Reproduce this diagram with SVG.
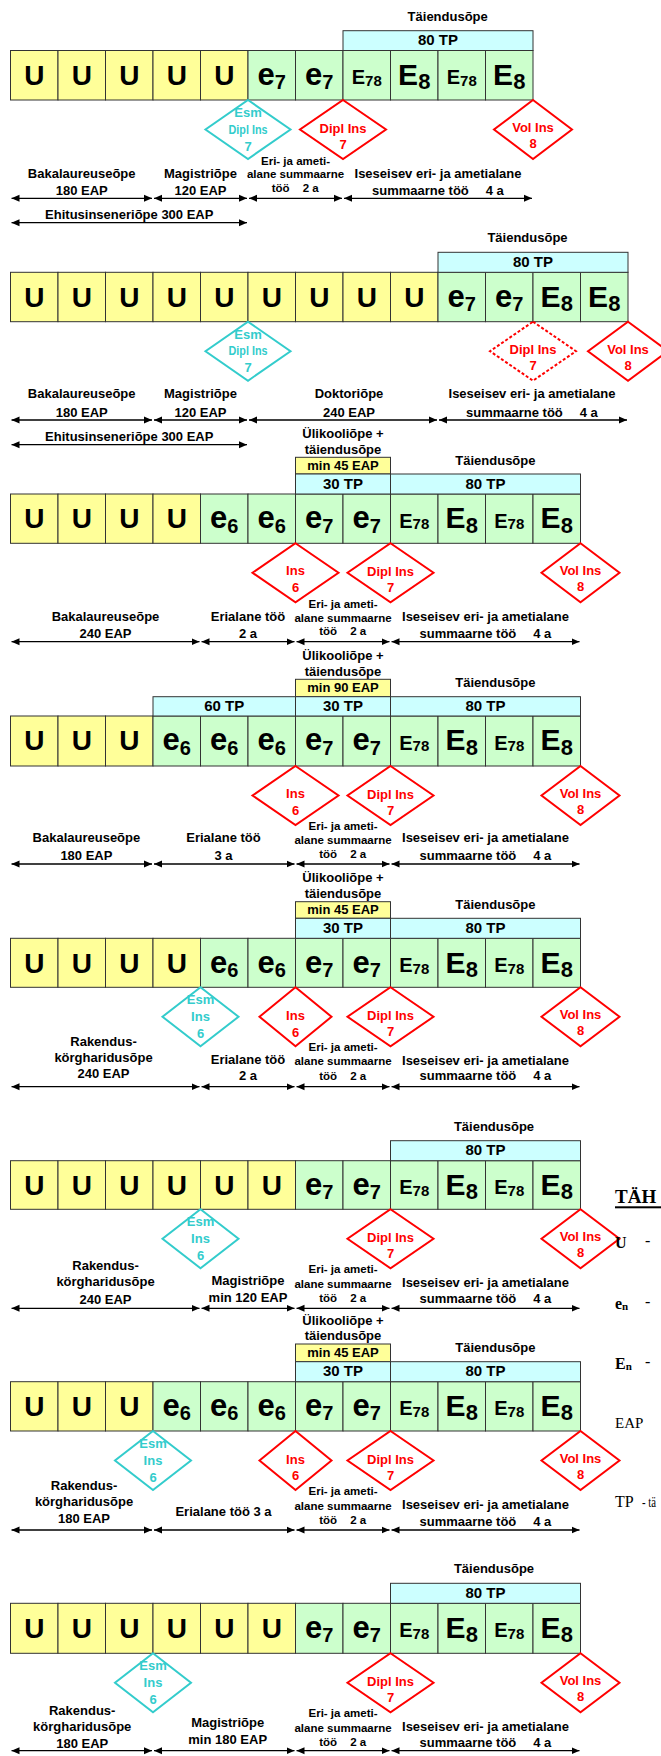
<svg xmlns="http://www.w3.org/2000/svg" width="661" height="1756" viewBox="0 0 661 1756">
<style>
text{font-family:"Liberation Sans",Arial,Helvetica,sans-serif;font-weight:bold;fill:#000}
.U{font-size:28px;text-anchor:middle}
.e{font-size:31px;text-anchor:middle}
.E{font-size:30px;text-anchor:middle}
.E7{font-size:20px;text-anchor:middle}
.s1{font-size:20px}.s2{font-size:22px}.s3{font-size:15px}
.lb{font-size:13px;text-anchor:middle}
.ls{font-size:13px}
.sm{font-size:11.5px;text-anchor:middle}
.ss{font-size:11.5px}
.tp{font-size:15px;text-anchor:middle}
.tr{font-size:13px;text-anchor:middle;fill:#f00}
.tc{font-size:13px;text-anchor:middle;fill:#33cccc}
.u{fill:#ffff99;stroke:#333;stroke-width:1}
.g{fill:#ccffcc;stroke:#333;stroke-width:1}
.c{fill:#ccffff;stroke:#333;stroke-width:1}
.dr{fill:#fff;stroke:#f00;stroke-width:2}
.dd{fill:#fff;stroke:#f00;stroke-width:2;stroke-dasharray:3 2}
.dc{fill:#fff;stroke:#33cccc;stroke-width:2}
.ar{stroke:#000;stroke-width:1.3;fill:none;marker-start:url(#ah);marker-end:url(#ah)}
text.lg{font-family:"Liberation Serif","Times New Roman",serif}
text.nw{font-weight:normal}
</style>
<defs>
<marker id="ah" viewBox="0 0 8 8" refX="8" refY="4" markerWidth="8" markerHeight="8" markerUnits="userSpaceOnUse" orient="auto-start-reverse"><path d="M0,0.5 L8,4 L0,7.5 z" fill="#000"/></marker>
</defs>
<rect width="661" height="1756" fill="#fff"/>

<!-- ROW 1 -->
<g id="row1" transform="translate(0,50.5)">
<g id="r1c0"><rect class="u" x="10.5" width="47.5" height="49.5"/><text class="U" x="34.25" y="34.3">U</text></g>
<g id="r1c1"><rect class="u" x="58" width="47.5" height="49.5"/><text class="U" x="81.75" y="34.3">U</text></g>
<g id="r1c2"><rect class="u" x="105.5" width="47.5" height="49.5"/><text class="U" x="129.25" y="34.3">U</text></g>
<g id="r1c3"><rect class="u" x="153" width="47.5" height="49.5"/><text class="U" x="176.75" y="34.3">U</text></g>
<g id="r1c4"><rect class="u" x="200.5" width="47.5" height="49.5"/><text class="U" x="224.25" y="34.3">U</text></g>
<g id="r1c5"><rect class="g" x="248" width="47.5" height="49.5"/><text class="e" x="271.75" y="34.3">e<tspan class="s1" dy="4.3">7</tspan></text></g>
<g id="r1c6"><rect class="g" x="295.5" width="47.5" height="49.5"/><text class="e" x="319.25" y="34.3">e<tspan class="s1" dy="4.3">7</tspan></text></g>
<g id="r1c7"><rect class="g" x="343" width="47.5" height="49.5"/><text class="E7" x="366.75" y="33.6">E<tspan class="s3" dy="1.7">78</tspan></text></g>
<g id="r1c8"><rect class="g" x="390.5" width="47.5" height="49.5"/><text class="E" x="414.25" y="34.3">E<tspan class="s2" dy="4.3">8</tspan></text></g>
<g id="r1c9"><rect class="g" x="438" width="47.5" height="49.5"/><text class="E7" x="461.75" y="33.6">E<tspan class="s3" dy="1.7">78</tspan></text></g>
<g id="r1c10"><rect class="g" x="485.5" width="47.5" height="49.5"/><text class="E" x="509.25" y="34.3">E<tspan class="s2" dy="4.3">8</tspan></text></g>
</g>
<g id="r1tp"><rect class="c" x="343" y="30.7" width="190" height="19.8"/><text class="tp" x="438" y="45.3">80 TP</text></g>
<text class="lb" x="447.7" y="20.7">Täiendusõpe</text>
<g id="r1d1" transform="translate(248,100)"><polygon class="dc" points="0,0 42.5,29.5 0,59 -42.5,29.5"/><text class="tc" y="17">Esm</text><text class="tc" y="33.5" textLength="39" lengthAdjust="spacingAndGlyphs">Dipl Ins</text><text class="tc" y="50.5">7</text></g>
<g id="r1d2" transform="translate(343,100)"><polygon class="dr" points="0,0 43,29.5 0,59 -43,29.5"/><text class="tr" y="32.5">Dipl Ins</text><text class="tr" y="48.5">7</text></g>
<g id="r1d3" transform="translate(533,100)"><polygon class="dr" points="0,0 39,29.5 0,59 -39,29.5"/><text class="tr" y="32">Vol Ins</text><text class="tr" y="48">8</text></g>
<g id="r1lab">
<text class="lb" x="81.7" y="177.5">Bakalaureuseõpe</text><text class="lb" x="81.7" y="195">180 EAP</text>
<text class="lb" x="200.5" y="177.5">Magistriõpe</text><text class="lb" x="200.5" y="195">120 EAP</text>
<text class="sm" x="295.5" y="164.5">Eri- ja ameti-</text><text class="sm" x="295.5" y="178">alane summaarne</text><text class="ss" x="271.7" y="191.7">töö</text><text class="ss" x="302.7" y="191.7">2 a</text>
<text class="lb" x="438" y="177.5">Iseseisev eri- ja ametialane</text><text class="ls" x="372" y="195">summaarne töö</text><text class="ls" x="485.7" y="195">4 a</text>
<text class="lb" x="129.25" y="218.5">Ehitusinseneriõpe 300 EAP</text>
</g>

<!-- ROW 2 -->
<g id="row2" transform="translate(0,272.3)">
<g id="r2c0"><rect class="u" x="10.5" width="47.5" height="49.4"/><text class="U" x="34.25" y="34.3">U</text></g>
<g id="r2c1"><rect class="u" x="58" width="47.5" height="49.4"/><text class="U" x="81.75" y="34.3">U</text></g>
<g id="r2c2"><rect class="u" x="105.5" width="47.5" height="49.4"/><text class="U" x="129.25" y="34.3">U</text></g>
<g id="r2c3"><rect class="u" x="153" width="47.5" height="49.4"/><text class="U" x="176.75" y="34.3">U</text></g>
<g id="r2c4"><rect class="u" x="200.5" width="47.5" height="49.4"/><text class="U" x="224.25" y="34.3">U</text></g>
<g id="r2c5"><rect class="u" x="248" width="47.5" height="49.4"/><text class="U" x="271.75" y="34.3">U</text></g>
<g id="r2c6"><rect class="u" x="295.5" width="47.5" height="49.4"/><text class="U" x="319.25" y="34.3">U</text></g>
<g id="r2c7"><rect class="u" x="343" width="47.5" height="49.4"/><text class="U" x="366.75" y="34.3">U</text></g>
<g id="r2c8"><rect class="u" x="390.5" width="47.5" height="49.4"/><text class="U" x="414.25" y="34.3">U</text></g>
<g id="r2c9"><rect class="g" x="438" width="47.5" height="49.4"/><text class="e" x="461.75" y="34.3">e<tspan class="s1" dy="4.3">7</tspan></text></g>
<g id="r2c10"><rect class="g" x="485.5" width="47.5" height="49.4"/><text class="e" x="509.25" y="34.3">e<tspan class="s1" dy="4.3">7</tspan></text></g>
<g id="r2c11"><rect class="g" x="533" width="47.5" height="49.4"/><text class="E" x="556.75" y="34.3">E<tspan class="s2" dy="4.3">8</tspan></text></g>
<g id="r2c12"><rect class="g" x="580.5" width="47.5" height="49.4"/><text class="E" x="604.25" y="34.3">E<tspan class="s2" dy="4.3">8</tspan></text></g>
</g>
<g id="r2tp"><rect class="c" x="438" y="252.3" width="190" height="20"/><text class="tp" x="533" y="266.8">80 TP</text></g>
<text class="lb" x="527.5" y="242.3">Täiendusõpe</text>
<g id="r2d1" transform="translate(248,321.7)"><polygon class="dc" points="0,0 42.5,29.5 0,59 -42.5,29.5"/><text class="tc" y="17">Esm</text><text class="tc" y="33.5" textLength="39" lengthAdjust="spacingAndGlyphs">Dipl Ins</text><text class="tc" y="50.5">7</text></g>
<g id="r2d2" transform="translate(533,321.7)"><polygon class="dd" points="0,0 43,29.5 0,59 -43,29.5"/><text class="tr" y="32.5">Dipl Ins</text><text class="tr" y="48.5">7</text></g>
<g id="r2d3" transform="translate(628,321.7)"><polygon class="dr" points="0,0 40,29.5 0,59 -40,29.5"/><text class="tr" y="32">Vol Ins</text><text class="tr" y="48">8</text></g>
<g id="r2lab">
<text class="lb" x="81.7" y="398.3">Bakalaureuseõpe</text><text class="lb" x="81.7" y="416.5">180 EAP</text>
<text class="lb" x="200.5" y="398.3">Magistriõpe</text><text class="lb" x="200.5" y="416.5">120 EAP</text>
<text class="lb" x="349" y="398.3">Doktoriõpe</text><text class="lb" x="349" y="416.5">240 EAP</text>
<text class="lb" x="532" y="398.3">Iseseisev eri- ja ametialane</text><text class="ls" x="466" y="416.5">summaarne töö</text><text class="ls" x="579.7" y="416.5">4 a</text>
<text class="lb" x="129.25" y="440.5">Ehitusinseneriõpe 300 EAP</text>
</g>

<!-- ROW 3 -->
<g id="row3" transform="translate(0,494)">
<g id="r3c0"><rect class="u" x="10.5" width="47.5" height="49.3"/><text class="U" x="34.25" y="34.3">U</text></g>
<g id="r3c1"><rect class="u" x="58" width="47.5" height="49.3"/><text class="U" x="81.75" y="34.3">U</text></g>
<g id="r3c2"><rect class="u" x="105.5" width="47.5" height="49.3"/><text class="U" x="129.25" y="34.3">U</text></g>
<g id="r3c3"><rect class="u" x="153" width="47.5" height="49.3"/><text class="U" x="176.75" y="34.3">U</text></g>
<g id="r3c4"><rect class="g" x="200.5" width="47.5" height="49.3"/><text class="e" x="224.25" y="34.3">e<tspan class="s1" dy="4.3">6</tspan></text></g>
<g id="r3c5"><rect class="g" x="248" width="47.5" height="49.3"/><text class="e" x="271.75" y="34.3">e<tspan class="s1" dy="4.3">6</tspan></text></g>
<g id="r3c6"><rect class="g" x="295.5" width="47.5" height="49.3"/><text class="e" x="319.25" y="34.3">e<tspan class="s1" dy="4.3">7</tspan></text></g>
<g id="r3c7"><rect class="g" x="343" width="47.5" height="49.3"/><text class="e" x="366.75" y="34.3">e<tspan class="s1" dy="4.3">7</tspan></text></g>
<g id="r3c8"><rect class="g" x="390.5" width="47.5" height="49.3"/><text class="E7" x="414.25" y="33.6">E<tspan class="s3" dy="1.7">78</tspan></text></g>
<g id="r3c9"><rect class="g" x="438" width="47.5" height="49.3"/><text class="E" x="461.75" y="34.3">E<tspan class="s2" dy="4.3">8</tspan></text></g>
<g id="r3c10"><rect class="g" x="485.5" width="47.5" height="49.3"/><text class="E7" x="509.25" y="33.6">E<tspan class="s3" dy="1.7">78</tspan></text></g>
<g id="r3c11"><rect class="g" x="533" width="47.5" height="49.3"/><text class="E" x="556.75" y="34.3">E<tspan class="s2" dy="4.3">8</tspan></text></g>
</g>
<text class="lb" x="343" y="438">Ülikooliõpe +</text><text class="lb" x="343" y="453.5">täiendusõpe</text>
<g id="r3min"><rect class="u" x="295.5" y="457.3" width="95" height="16.7"/><text class="lb" x="343" y="470.3">min 45 EAP</text></g>
<g id="r3tp30"><rect class="c" x="295.5" y="474" width="95" height="20"/><text class="tp" x="343" y="488.5">30 TP</text></g>
<g id="r3tp80"><rect class="c" x="390.5" y="474" width="190" height="20"/><text class="tp" x="485.5" y="488.5">80 TP</text></g>
<text class="lb" x="495.4" y="464.5">Täiendusõpe</text>
<g id="r3d1" transform="translate(295.5,543.3)"><polygon class="dr" points="0,0 43,29.5 0,59 -43,29.5"/><text class="tr" y="32">Ins</text><text class="tr" y="48.5">6</text></g>
<g id="r3d2" transform="translate(390.5,543.3)"><polygon class="dr" points="0,0 43,29.5 0,59 -43,29.5"/><text class="tr" y="32.5">Dipl Ins</text><text class="tr" y="48.5">7</text></g>
<g id="r3d3" transform="translate(580.5,543.3)"><polygon class="dr" points="0,0 39,29.5 0,59 -39,29.5"/><text class="tr" y="32">Vol Ins</text><text class="tr" y="48">8</text></g>
<g id="r3lab">
<text class="lb" x="105.5" y="620.5">Bakalaureuseõpe</text><text class="lb" x="105.5" y="638">240 EAP</text>
<text class="lb" x="248" y="620.5">Erialane töö</text><text class="lb" x="248" y="638">2 a</text>
<text class="sm" x="343" y="607.8">Eri- ja ameti-</text><text class="sm" x="343" y="621.5">alane summaarne</text><text class="ss" x="319.2" y="635.3">töö</text><text class="ss" x="350.2" y="635.3">2 a</text>
<text class="lb" x="485.5" y="620.5">Iseseisev eri- ja ametialane</text><text class="ls" x="419.5" y="638">summaarne töö</text><text class="ls" x="533.2" y="638">4 a</text>
</g>

<!-- ROW 4 -->
<g id="row4" transform="translate(0,716)">
<g id="r4c0"><rect class="u" x="10.5" width="47.5" height="50"/><text class="U" x="34.25" y="34.3">U</text></g>
<g id="r4c1"><rect class="u" x="58" width="47.5" height="50"/><text class="U" x="81.75" y="34.3">U</text></g>
<g id="r4c2"><rect class="u" x="105.5" width="47.5" height="50"/><text class="U" x="129.25" y="34.3">U</text></g>
<g id="r4c3"><rect class="g" x="153" width="47.5" height="50"/><text class="e" x="176.75" y="34.3">e<tspan class="s1" dy="4.3">6</tspan></text></g>
<g id="r4c4"><rect class="g" x="200.5" width="47.5" height="50"/><text class="e" x="224.25" y="34.3">e<tspan class="s1" dy="4.3">6</tspan></text></g>
<g id="r4c5"><rect class="g" x="248" width="47.5" height="50"/><text class="e" x="271.75" y="34.3">e<tspan class="s1" dy="4.3">6</tspan></text></g>
<g id="r4c6"><rect class="g" x="295.5" width="47.5" height="50"/><text class="e" x="319.25" y="34.3">e<tspan class="s1" dy="4.3">7</tspan></text></g>
<g id="r4c7"><rect class="g" x="343" width="47.5" height="50"/><text class="e" x="366.75" y="34.3">e<tspan class="s1" dy="4.3">7</tspan></text></g>
<g id="r4c8"><rect class="g" x="390.5" width="47.5" height="50"/><text class="E7" x="414.25" y="33.6">E<tspan class="s3" dy="1.7">78</tspan></text></g>
<g id="r4c9"><rect class="g" x="438" width="47.5" height="50"/><text class="E" x="461.75" y="34.3">E<tspan class="s2" dy="4.3">8</tspan></text></g>
<g id="r4c10"><rect class="g" x="485.5" width="47.5" height="50"/><text class="E7" x="509.25" y="33.6">E<tspan class="s3" dy="1.7">78</tspan></text></g>
<g id="r4c11"><rect class="g" x="533" width="47.5" height="50"/><text class="E" x="556.75" y="34.3">E<tspan class="s2" dy="4.3">8</tspan></text></g>
</g>
<text class="lb" x="343" y="660">Ülikooliõpe +</text><text class="lb" x="343" y="675.5">täiendusõpe</text>
<g id="r4min"><rect class="u" x="295.5" y="679.3" width="95" height="17.4"/><text class="lb" x="343" y="692">min 90 EAP</text></g>
<g id="r4tp60"><rect class="c" x="153" y="696.7" width="142.5" height="19.3"/><text class="tp" x="224.25" y="711">60 TP</text></g>
<g id="r4tp30"><rect class="c" x="295.5" y="696.7" width="95" height="19.3"/><text class="tp" x="343" y="711">30 TP</text></g>
<g id="r4tp80"><rect class="c" x="390.5" y="696.7" width="190" height="19.3"/><text class="tp" x="485.5" y="711">80 TP</text></g>
<text class="lb" x="495.4" y="686.7">Täiendusõpe</text>
<g id="r4d1" transform="translate(295.5,766)"><polygon class="dr" points="0,0 43,29.5 0,59 -43,29.5"/><text class="tr" y="32">Ins</text><text class="tr" y="48.5">6</text></g>
<g id="r4d2" transform="translate(390.5,766)"><polygon class="dr" points="0,0 43,29.5 0,59 -43,29.5"/><text class="tr" y="32.5">Dipl Ins</text><text class="tr" y="48.5">7</text></g>
<g id="r4d3" transform="translate(580.5,766)"><polygon class="dr" points="0,0 39,29.5 0,59 -39,29.5"/><text class="tr" y="32">Vol Ins</text><text class="tr" y="48">8</text></g>
<g id="r4lab">
<text class="lb" x="86.4" y="842">Bakalaureuseõpe</text><text class="lb" x="86.4" y="860">180 EAP</text>
<text class="lb" x="223.5" y="842">Erialane töö</text><text class="lb" x="223.5" y="860">3 a</text>
<text class="sm" x="343" y="830">Eri- ja ameti-</text><text class="sm" x="343" y="844">alane summaarne</text><text class="ss" x="319.2" y="857.7">töö</text><text class="ss" x="350.2" y="857.7">2 a</text>
<text class="lb" x="485.5" y="842">Iseseisev eri- ja ametialane</text><text class="ls" x="419.5" y="860">summaarne töö</text><text class="ls" x="533.2" y="860">4 a</text>
</g>

<!-- ROW 5 -->
<g id="row5" transform="translate(0,938.3)">
<g id="r5c0"><rect class="u" x="10.5" width="47.5" height="49"/><text class="U" x="34.25" y="34.3">U</text></g>
<g id="r5c1"><rect class="u" x="58" width="47.5" height="49"/><text class="U" x="81.75" y="34.3">U</text></g>
<g id="r5c2"><rect class="u" x="105.5" width="47.5" height="49"/><text class="U" x="129.25" y="34.3">U</text></g>
<g id="r5c3"><rect class="u" x="153" width="47.5" height="49"/><text class="U" x="176.75" y="34.3">U</text></g>
<g id="r5c4"><rect class="g" x="200.5" width="47.5" height="49"/><text class="e" x="224.25" y="34.3">e<tspan class="s1" dy="4.3">6</tspan></text></g>
<g id="r5c5"><rect class="g" x="248" width="47.5" height="49"/><text class="e" x="271.75" y="34.3">e<tspan class="s1" dy="4.3">6</tspan></text></g>
<g id="r5c6"><rect class="g" x="295.5" width="47.5" height="49"/><text class="e" x="319.25" y="34.3">e<tspan class="s1" dy="4.3">7</tspan></text></g>
<g id="r5c7"><rect class="g" x="343" width="47.5" height="49"/><text class="e" x="366.75" y="34.3">e<tspan class="s1" dy="4.3">7</tspan></text></g>
<g id="r5c8"><rect class="g" x="390.5" width="47.5" height="49"/><text class="E7" x="414.25" y="33.6">E<tspan class="s3" dy="1.7">78</tspan></text></g>
<g id="r5c9"><rect class="g" x="438" width="47.5" height="49"/><text class="E" x="461.75" y="34.3">E<tspan class="s2" dy="4.3">8</tspan></text></g>
<g id="r5c10"><rect class="g" x="485.5" width="47.5" height="49"/><text class="E7" x="509.25" y="33.6">E<tspan class="s3" dy="1.7">78</tspan></text></g>
<g id="r5c11"><rect class="g" x="533" width="47.5" height="49"/><text class="E" x="556.75" y="34.3">E<tspan class="s2" dy="4.3">8</tspan></text></g>
</g>
<text class="lb" x="343" y="882">Ülikooliõpe +</text><text class="lb" x="343" y="898">täiendusõpe</text>
<g id="r5min"><rect class="u" x="295.5" y="901.7" width="95" height="16.6"/><text class="lb" x="343" y="914.2">min 45 EAP</text></g>
<g id="r5tp30"><rect class="c" x="295.5" y="918.3" width="95" height="20"/><text class="tp" x="343" y="932.8">30 TP</text></g>
<g id="r5tp80"><rect class="c" x="390.5" y="918.3" width="190" height="20"/><text class="tp" x="485.5" y="932.8">80 TP</text></g>
<text class="lb" x="495.4" y="908.5">Täiendusõpe</text>
<g id="r5d0" transform="translate(200.5,987.3)"><polygon class="dc" points="0,0 38,29.5 0,59 -38,29.5"/><text class="tc" y="17">Esm</text><text class="tc" y="34">Ins</text><text class="tc" y="50.7">6</text></g>
<g id="r5d1" transform="translate(295.5,987.3)"><polygon class="dr" points="0,0 36,29.5 0,59 -36,29.5"/><text class="tr" y="32.7">Ins</text><text class="tr" y="49.3">6</text></g>
<g id="r5d2" transform="translate(390.5,987.3)"><polygon class="dr" points="0,0 43,29.5 0,59 -43,29.5"/><text class="tr" y="32.5">Dipl Ins</text><text class="tr" y="48.5">7</text></g>
<g id="r5d3" transform="translate(580.5,987.3)"><polygon class="dr" points="0,0 39,29.5 0,59 -39,29.5"/><text class="tr" y="32">Vol Ins</text><text class="tr" y="48">8</text></g>
<g id="r5lab">
<text class="lb" x="103.5" y="1046">Rakendus-</text><text class="lb" x="103.5" y="1061.5">körgharidusõpe</text><text class="lb" x="103.5" y="1078.3">240 EAP</text>
<text class="lb" x="248" y="1063.5">Erialane töö</text><text class="lb" x="248" y="1080">2 a</text>
<text class="sm" x="343" y="1050.5">Eri- ja ameti-</text><text class="sm" x="343" y="1064.5">alane summaarne</text><text class="ss" x="319.2" y="1079.5">töö</text><text class="ss" x="350.2" y="1079.5">2 a</text>
<text class="lb" x="485.5" y="1064.5">Iseseisev eri- ja ametialane</text><text class="ls" x="419.5" y="1080">summaarne töö</text><text class="ls" x="533.2" y="1080">4 a</text>
</g>

<!-- ROW 6 -->
<g id="row6" transform="translate(0,1160.7)">
<g id="r6c0"><rect class="u" x="10.5" width="47.5" height="48.6"/><text class="U" x="34.25" y="34.3">U</text></g>
<g id="r6c1"><rect class="u" x="58" width="47.5" height="48.6"/><text class="U" x="81.75" y="34.3">U</text></g>
<g id="r6c2"><rect class="u" x="105.5" width="47.5" height="48.6"/><text class="U" x="129.25" y="34.3">U</text></g>
<g id="r6c3"><rect class="u" x="153" width="47.5" height="48.6"/><text class="U" x="176.75" y="34.3">U</text></g>
<g id="r6c4"><rect class="u" x="200.5" width="47.5" height="48.6"/><text class="U" x="224.25" y="34.3">U</text></g>
<g id="r6c5"><rect class="u" x="248" width="47.5" height="48.6"/><text class="U" x="271.75" y="34.3">U</text></g>
<g id="r6c6"><rect class="g" x="295.5" width="47.5" height="48.6"/><text class="e" x="319.25" y="34.3">e<tspan class="s1" dy="4.3">7</tspan></text></g>
<g id="r6c7"><rect class="g" x="343" width="47.5" height="48.6"/><text class="e" x="366.75" y="34.3">e<tspan class="s1" dy="4.3">7</tspan></text></g>
<g id="r6c8"><rect class="g" x="390.5" width="47.5" height="48.6"/><text class="E7" x="414.25" y="33.6">E<tspan class="s3" dy="1.7">78</tspan></text></g>
<g id="r6c9"><rect class="g" x="438" width="47.5" height="48.6"/><text class="E" x="461.75" y="34.3">E<tspan class="s2" dy="4.3">8</tspan></text></g>
<g id="r6c10"><rect class="g" x="485.5" width="47.5" height="48.6"/><text class="E7" x="509.25" y="33.6">E<tspan class="s3" dy="1.7">78</tspan></text></g>
<g id="r6c11"><rect class="g" x="533" width="47.5" height="48.6"/><text class="E" x="556.75" y="34.3">E<tspan class="s2" dy="4.3">8</tspan></text></g>
</g>
<g id="r6tp80"><rect class="c" x="390.5" y="1140.7" width="190" height="20"/><text class="tp" x="485.5" y="1155.2">80 TP</text></g>
<text class="lb" x="494" y="1130.5">Täiendusõpe</text>
<g id="r6d0" transform="translate(200.5,1209.3)"><polygon class="dc" points="0,0 38,29.5 0,59 -38,29.5"/><text class="tc" y="17">Esm</text><text class="tc" y="34">Ins</text><text class="tc" y="50.7">6</text></g>
<g id="r6d2" transform="translate(390.5,1209.3)"><polygon class="dr" points="0,0 43,29.5 0,59 -43,29.5"/><text class="tr" y="32.5">Dipl Ins</text><text class="tr" y="48.5">7</text></g>
<g id="r6d3" transform="translate(580.5,1209.3)"><polygon class="dr" points="0,0 39,29.5 0,59 -39,29.5"/><text class="tr" y="32">Vol Ins</text><text class="tr" y="48">8</text></g>
<g id="r6lab">
<text class="lb" x="105.5" y="1270">Rakendus-</text><text class="lb" x="105.5" y="1286">körgharidusõpe</text><text class="lb" x="105.5" y="1303.5">240 EAP</text>
<text class="lb" x="248" y="1285">Magistriõpe</text><text class="lb" x="248" y="1301.5">min 120 EAP</text>
<text class="sm" x="343" y="1273">Eri- ja ameti-</text><text class="sm" x="343" y="1287.5">alane summaarne</text><text class="ss" x="319.2" y="1301.5">töö</text><text class="ss" x="350.2" y="1301.5">2 a</text>
<text class="lb" x="485.5" y="1287">Iseseisev eri- ja ametialane</text><text class="ls" x="419.5" y="1303">summaarne töö</text><text class="ls" x="533.2" y="1303">4 a</text>
</g>

<!-- ROW 7 -->
<g id="row7" transform="translate(0,1381.7)">
<g id="r7c0"><rect class="u" x="10.5" width="47.5" height="49.3"/><text class="U" x="34.25" y="34.3">U</text></g>
<g id="r7c1"><rect class="u" x="58" width="47.5" height="49.3"/><text class="U" x="81.75" y="34.3">U</text></g>
<g id="r7c2"><rect class="u" x="105.5" width="47.5" height="49.3"/><text class="U" x="129.25" y="34.3">U</text></g>
<g id="r7c3"><rect class="g" x="153" width="47.5" height="49.3"/><text class="e" x="176.75" y="34.3">e<tspan class="s1" dy="4.3">6</tspan></text></g>
<g id="r7c4"><rect class="g" x="200.5" width="47.5" height="49.3"/><text class="e" x="224.25" y="34.3">e<tspan class="s1" dy="4.3">6</tspan></text></g>
<g id="r7c5"><rect class="g" x="248" width="47.5" height="49.3"/><text class="e" x="271.75" y="34.3">e<tspan class="s1" dy="4.3">6</tspan></text></g>
<g id="r7c6"><rect class="g" x="295.5" width="47.5" height="49.3"/><text class="e" x="319.25" y="34.3">e<tspan class="s1" dy="4.3">7</tspan></text></g>
<g id="r7c7"><rect class="g" x="343" width="47.5" height="49.3"/><text class="e" x="366.75" y="34.3">e<tspan class="s1" dy="4.3">7</tspan></text></g>
<g id="r7c8"><rect class="g" x="390.5" width="47.5" height="49.3"/><text class="E7" x="414.25" y="33.6">E<tspan class="s3" dy="1.7">78</tspan></text></g>
<g id="r7c9"><rect class="g" x="438" width="47.5" height="49.3"/><text class="E" x="461.75" y="34.3">E<tspan class="s2" dy="4.3">8</tspan></text></g>
<g id="r7c10"><rect class="g" x="485.5" width="47.5" height="49.3"/><text class="E7" x="509.25" y="33.6">E<tspan class="s3" dy="1.7">78</tspan></text></g>
<g id="r7c11"><rect class="g" x="533" width="47.5" height="49.3"/><text class="E" x="556.75" y="34.3">E<tspan class="s2" dy="4.3">8</tspan></text></g>
</g>
<text class="lb" x="343" y="1325">Ülikooliõpe +</text><text class="lb" x="343" y="1340">täiendusõpe</text>
<g id="r7min"><rect class="u" x="295.5" y="1344" width="95" height="17.7"/><text class="lb" x="343" y="1357">min 45 EAP</text></g>
<g id="r7tp30"><rect class="c" x="295.5" y="1361.7" width="95" height="20"/><text class="tp" x="343" y="1376.2">30 TP</text></g>
<g id="r7tp80"><rect class="c" x="390.5" y="1361.7" width="190" height="20"/><text class="tp" x="485.5" y="1376.2">80 TP</text></g>
<text class="lb" x="495.4" y="1351.5">Täiendusõpe</text>
<g id="r7d0" transform="translate(153,1431)"><polygon class="dc" points="0,0 38,29.5 0,59 -38,29.5"/><text class="tc" y="17">Esm</text><text class="tc" y="34">Ins</text><text class="tc" y="50.7">6</text></g>
<g id="r7d1" transform="translate(295.5,1431)"><polygon class="dr" points="0,0 36,29.5 0,59 -36,29.5"/><text class="tr" y="32.7">Ins</text><text class="tr" y="49.3">6</text></g>
<g id="r7d2" transform="translate(390.5,1431)"><polygon class="dr" points="0,0 43,29.5 0,59 -43,29.5"/><text class="tr" y="32.5">Dipl Ins</text><text class="tr" y="48.5">7</text></g>
<g id="r7d3" transform="translate(580.5,1431)"><polygon class="dr" points="0,0 39,29.5 0,59 -39,29.5"/><text class="tr" y="32">Vol Ins</text><text class="tr" y="48">8</text></g>
<g id="r7lab">
<text class="lb" x="84" y="1490">Rakendus-</text><text class="lb" x="84" y="1506">körgharidusõpe</text><text class="lb" x="84" y="1522.7">180 EAP</text>
<text class="lb" x="223.5" y="1516">Erialane töö 3 a</text>
<text class="sm" x="343" y="1495">Eri- ja ameti-</text><text class="sm" x="343" y="1509.5">alane summaarne</text><text class="ss" x="319.2" y="1523.5">töö</text><text class="ss" x="350.2" y="1523.5">2 a</text>
<text class="lb" x="485.5" y="1509">Iseseisev eri- ja ametialane</text><text class="ls" x="419.5" y="1525.5">summaarne töö</text><text class="ls" x="533.2" y="1525.5">4 a</text>
</g>

<!-- ROW 8 -->
<g id="row8" transform="translate(0,1603.3)">
<g id="r8c0"><rect class="u" x="10.5" width="47.5" height="50"/><text class="U" x="34.25" y="34.3">U</text></g>
<g id="r8c1"><rect class="u" x="58" width="47.5" height="50"/><text class="U" x="81.75" y="34.3">U</text></g>
<g id="r8c2"><rect class="u" x="105.5" width="47.5" height="50"/><text class="U" x="129.25" y="34.3">U</text></g>
<g id="r8c3"><rect class="u" x="153" width="47.5" height="50"/><text class="U" x="176.75" y="34.3">U</text></g>
<g id="r8c4"><rect class="u" x="200.5" width="47.5" height="50"/><text class="U" x="224.25" y="34.3">U</text></g>
<g id="r8c5"><rect class="u" x="248" width="47.5" height="50"/><text class="U" x="271.75" y="34.3">U</text></g>
<g id="r8c6"><rect class="g" x="295.5" width="47.5" height="50"/><text class="e" x="319.25" y="34.3">e<tspan class="s1" dy="4.3">7</tspan></text></g>
<g id="r8c7"><rect class="g" x="343" width="47.5" height="50"/><text class="e" x="366.75" y="34.3">e<tspan class="s1" dy="4.3">7</tspan></text></g>
<g id="r8c8"><rect class="g" x="390.5" width="47.5" height="50"/><text class="E7" x="414.25" y="33.6">E<tspan class="s3" dy="1.7">78</tspan></text></g>
<g id="r8c9"><rect class="g" x="438" width="47.5" height="50"/><text class="E" x="461.75" y="34.3">E<tspan class="s2" dy="4.3">8</tspan></text></g>
<g id="r8c10"><rect class="g" x="485.5" width="47.5" height="50"/><text class="E7" x="509.25" y="33.6">E<tspan class="s3" dy="1.7">78</tspan></text></g>
<g id="r8c11"><rect class="g" x="533" width="47.5" height="50"/><text class="E" x="556.75" y="34.3">E<tspan class="s2" dy="4.3">8</tspan></text></g>
</g>
<g id="r8tp80"><rect class="c" x="390.5" y="1583.3" width="190" height="20"/><text class="tp" x="485.5" y="1597.8">80 TP</text></g>
<text class="lb" x="494" y="1573">Täiendusõpe</text>
<g id="r8d0" transform="translate(153,1653.3)"><polygon class="dc" points="0,0 38,29.5 0,59 -38,29.5"/><text class="tc" y="17">Esm</text><text class="tc" y="34">Ins</text><text class="tc" y="50.7">6</text></g>
<g id="r8d2" transform="translate(390.5,1653.3)"><polygon class="dr" points="0,0 43,29.5 0,59 -43,29.5"/><text class="tr" y="32.5">Dipl Ins</text><text class="tr" y="48.5">7</text></g>
<g id="r8d3" transform="translate(580.5,1653.3)"><polygon class="dr" points="0,0 39,29.5 0,59 -39,29.5"/><text class="tr" y="32">Vol Ins</text><text class="tr" y="48">8</text></g>
<g id="r8lab">
<text class="lb" x="82.2" y="1714.5">Rakendus-</text><text class="lb" x="82.2" y="1731">körgharidusõpe</text><text class="lb" x="82.2" y="1748">180 EAP</text>
<text class="lb" x="227.7" y="1727">Magistriõpe</text><text class="lb" x="227.7" y="1744">min 180 EAP</text>
<text class="sm" x="343" y="1716.5">Eri- ja ameti-</text><text class="sm" x="343" y="1731.5">alane summaarne</text><text class="ss" x="319.2" y="1746">töö</text><text class="ss" x="350.2" y="1746">2 a</text>
<text class="lb" x="485.5" y="1731">Iseseisev eri- ja ametialane</text><text class="ls" x="419.5" y="1747">summaarne töö</text><text class="ls" x="533.2" y="1747">4 a</text>
</g>

<!-- LEGEND -->
<g id="legend">
<text class="lg" x="615" y="1203.3" font-size="19">TÄH</text>
<rect x="615" y="1206.3" width="46" height="2" fill="#000"/>
<text class="lg" x="615" y="1248.3" font-size="16">U</text><text class="lg nw" x="645" y="1246" font-size="16">-</text>
<text class="lg" x="615" y="1309.3" font-size="16">e<tspan font-size="11" dy="1">n</tspan></text><text class="lg nw" x="645" y="1307" font-size="16">-</text>
<text class="lg" x="615" y="1369.3" font-size="16">E<tspan font-size="11" dy="1">n</tspan></text><text class="lg nw" x="645" y="1367" font-size="16">-</text>
<text class="lg nw" x="615" y="1428.3" font-size="15">EAP</text>
<text class="lg nw" x="615" y="1506.7" font-size="16">TP</text><text class="lg nw" x="642" y="1506.7" font-size="15" textLength="14" lengthAdjust="spacingAndGlyphs">- tä</text>
</g>

<!-- CONNECTORS -->
<g id="connectors">
<line class="ar" x1="11.5" y1="198.3" x2="152" y2="198.3"/><line class="ar" x1="154" y1="198.3" x2="247" y2="198.3"/><line class="ar" x1="249" y1="198.3" x2="342" y2="198.3"/><line class="ar" x1="344" y1="198.3" x2="532" y2="198.3"/>
<line class="ar" x1="11.5" y1="222.7" x2="247" y2="222.7"/>
<line class="ar" x1="11.5" y1="420" x2="152" y2="420"/><line class="ar" x1="154" y1="420" x2="247" y2="420"/><line class="ar" x1="249" y1="420" x2="437" y2="420"/><line class="ar" x1="439" y1="420" x2="627" y2="420"/>
<line class="ar" x1="11.5" y1="444.7" x2="247" y2="444.7"/>
<line class="ar" x1="11.5" y1="641.7" x2="199.5" y2="641.7"/><line class="ar" x1="201.5" y1="641.7" x2="294.5" y2="641.7"/><line class="ar" x1="296.5" y1="641.7" x2="389.5" y2="641.7"/><line class="ar" x1="391.5" y1="641.7" x2="579.5" y2="641.7"/>
<line class="ar" x1="11.5" y1="864" x2="152" y2="864"/><line class="ar" x1="154" y1="864" x2="294.5" y2="864"/><line class="ar" x1="296.5" y1="864" x2="389.5" y2="864"/><line class="ar" x1="391.5" y1="864" x2="579.5" y2="864"/>
<line class="ar" x1="11.5" y1="1086.7" x2="199.5" y2="1086.7"/><line class="ar" x1="201.5" y1="1086.7" x2="294.5" y2="1086.7"/><line class="ar" x1="296.5" y1="1086.7" x2="389.5" y2="1086.7"/><line class="ar" x1="391.5" y1="1086.7" x2="579.5" y2="1086.7"/>
<line class="ar" x1="11.5" y1="1308.3" x2="199.5" y2="1308.3"/><line class="ar" x1="201.5" y1="1308.3" x2="294.5" y2="1308.3"/><line class="ar" x1="296.5" y1="1308.3" x2="389.5" y2="1308.3"/><line class="ar" x1="391.5" y1="1308.3" x2="579.5" y2="1308.3"/>
<line class="ar" x1="11.5" y1="1530" x2="152" y2="1530"/><line class="ar" x1="154" y1="1530" x2="294.5" y2="1530"/><line class="ar" x1="296.5" y1="1530" x2="389.5" y2="1530"/><line class="ar" x1="391.5" y1="1530" x2="579.5" y2="1530"/>
<line class="ar" x1="11.5" y1="1750.7" x2="152" y2="1750.7"/><line class="ar" x1="154" y1="1750.7" x2="294.5" y2="1750.7"/><line class="ar" x1="296.5" y1="1750.7" x2="389.5" y2="1750.7"/><line class="ar" x1="391.5" y1="1750.7" x2="579.5" y2="1750.7"/>
</g>
</svg>
